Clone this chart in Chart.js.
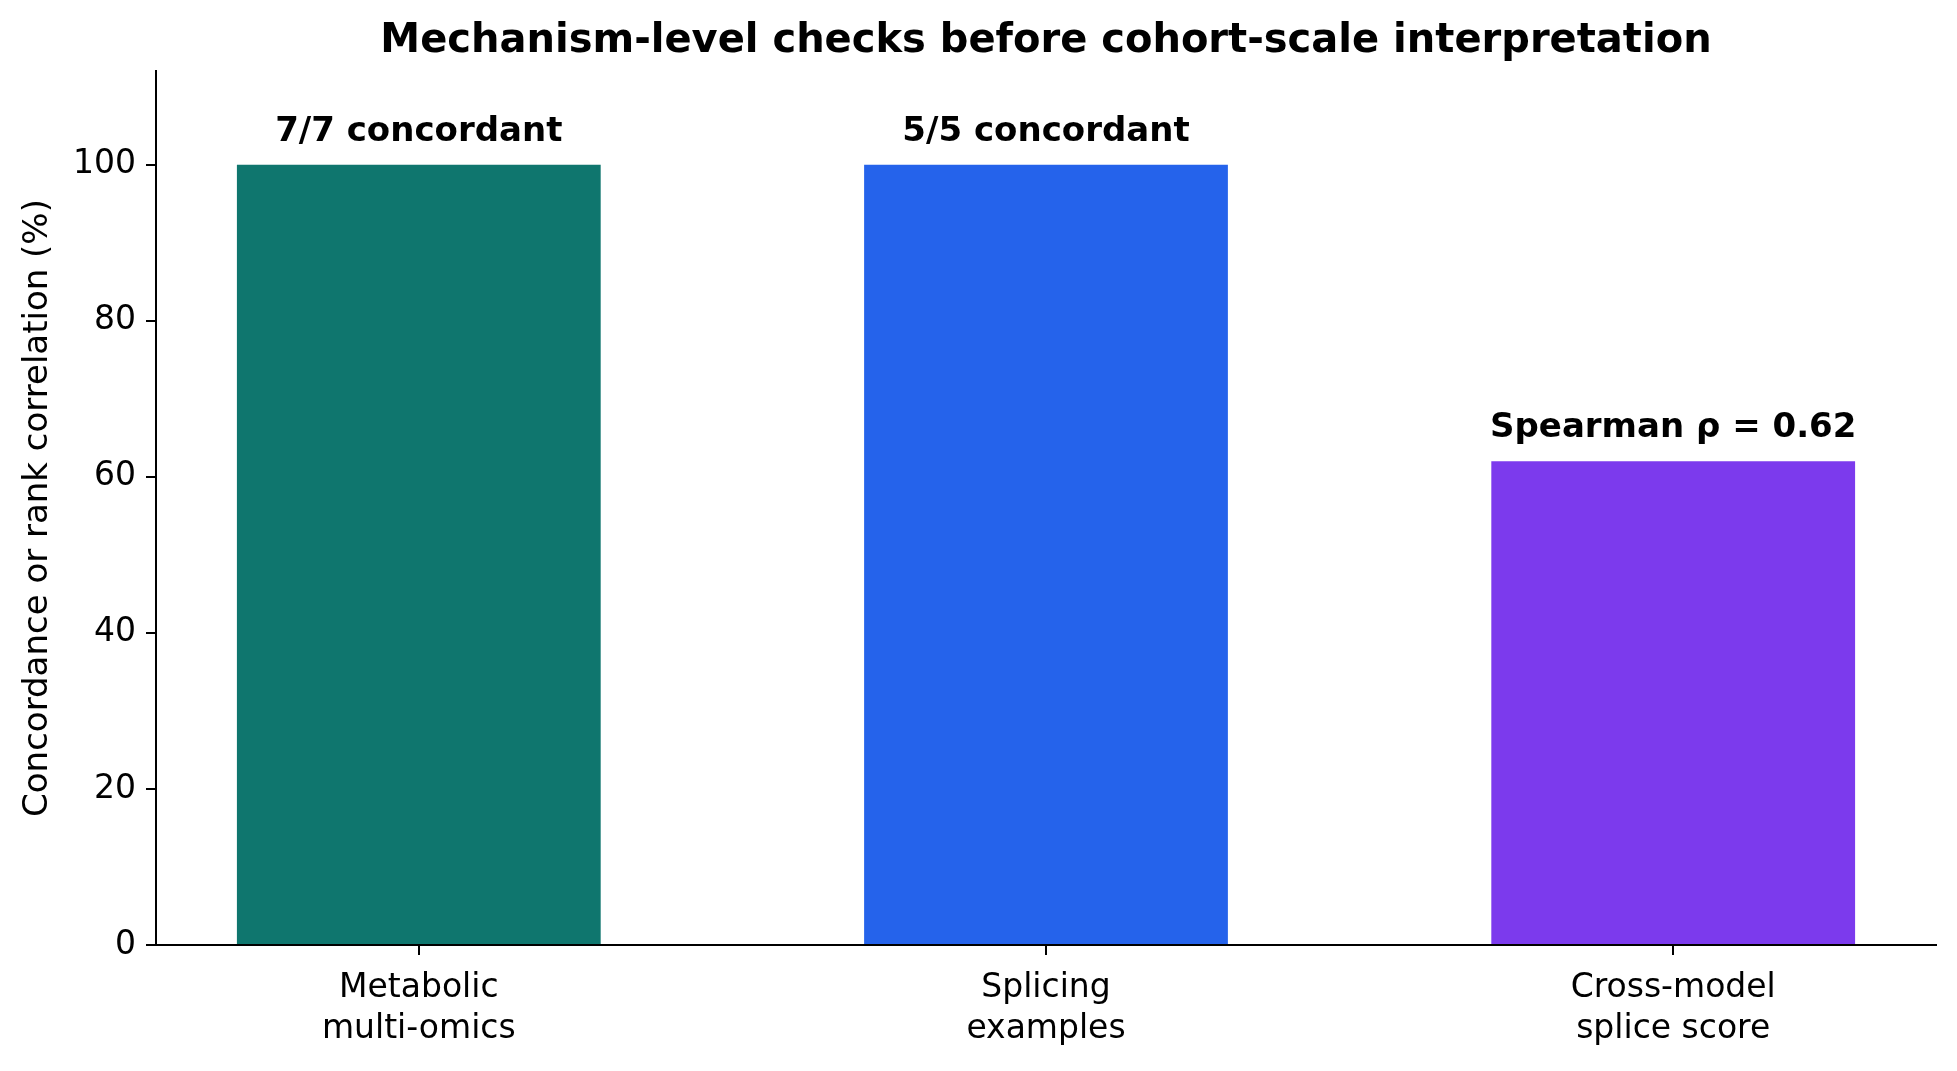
<!DOCTYPE html>
<html>
<head>
<meta charset="utf-8">
<script src="https://cdn.jsdelivr.net/npm/chart.js@4/dist/chart.umd.min.js"></script>
<style>
  body { margin: 0; background: #fff; }
  #wrap { width: 1957px; height: 1071px; position: relative; }
</style>
</head>
<body>
<div id="wrap"><canvas id="myChart"></canvas></div>
<script>
// categories (one entry per bar, split into tick-label lines)
const categories = [['Metabolic', 'multi-omics'], ['Splicing', 'examples'], ['Cross-model', 'splice score']];
const positions = [0, 1, 2];
const values = [100, 100, 62];
const barLabels = ['7/7 concordant', '5/5 concordant', 'Spearman \u03c1 = 0.62'];
const barColors = ['#0f766e', '#2563eb', '#7c3aed'];
const yTicks = [0, 20, 40, 60, 80, 100];

const FONT = "'DejaVu Sans', sans-serif";

// text above each bar
const barTextPlugin = {
  id: 'barText',
  afterDatasetsDraw(chart) {
    const ctx = chart.ctx;
    const meta = chart.getDatasetMeta(0);
    ctx.save();
    ctx.font = 'bold 34px ' + FONT;
    ctx.fillStyle = '#000';
    ctx.textAlign = 'center';
    ctx.textBaseline = 'alphabetic';
    meta.data.forEach((bar, i) => {
      ctx.fillText(barLabels[i], bar.x, bar.y - 24);
    });
    ctx.restore();
  }
};

const ctx = document.getElementById('myChart').getContext('2d');
const chart = new Chart(ctx, {
  type: 'bar',
  data: {
    datasets: [{
      data: positions.map((p, i) => ({ x: p, y: values[i] })),
      backgroundColor: barColors,
      borderWidth: 0,
      barPercentage: 0.58,
      categoryPercentage: 1.0
    }]
  },
  options: {
    responsive: true,
    maintainAspectRatio: false,
    animation: false,
    layout: { padding: { left: 0, right: 21, top: 0, bottom: 0 } },
    plugins: {
      legend: { display: false },
      tooltip: { enabled: false },
      title: {
        display: true,
        text: 'Mechanism-level checks before cohort-scale interpretation',
        color: '#000',
        fullSize: false,
        font: { family: FONT, size: 40, weight: 'bold', lineHeight: 1.2 },
        padding: { top: 18, bottom: 5 }
      }
    },
    scales: {
      x: {
        type: 'linear',
        min: -0.419,
        max: 2.419,
        offset: false,
        afterBuildTicks: s => { s.ticks = positions.map(v => ({ value: v })); },
        afterFit: s => { s.height = 126; },
        border: { display: true, color: '#000', width: 2 },
        grid: { display: true, drawOnChartArea: false, drawTicks: true, tickLength: 10, color: '#000', lineWidth: 2, offset: false },
        ticks: {
          color: '#000',
          padding: 13,
          maxRotation: 0,
          autoSkip: false,
          font: { family: FONT, size: 33, lineHeight: 1.25 },
          callback: v => categories[positions.indexOf(v)]
        }
      },
      y: {
        min: 0,
        max: 112,
        afterBuildTicks: s => { s.ticks = yTicks.map(v => ({ value: v })); },
        afterFit: s => { s.width = 156; },
        border: { display: true, color: '#000', width: 2 },
        grid: { display: true, drawOnChartArea: false, drawTicks: true, tickLength: 10, color: '#000', lineWidth: 2 },
        ticks: {
          color: '#000',
          padding: 10,
          font: { family: FONT, size: 33 }
        },
        title: {
          display: true,
          text: 'Concordance or rank correlation (%)',
          color: '#000',
          font: { family: FONT, size: 34, lineHeight: 1.2 },
          padding: { top: 18, bottom: 0 }
        }
      }
    }
  },
  plugins: [barTextPlugin]
});
</script>
</body>
</html>
